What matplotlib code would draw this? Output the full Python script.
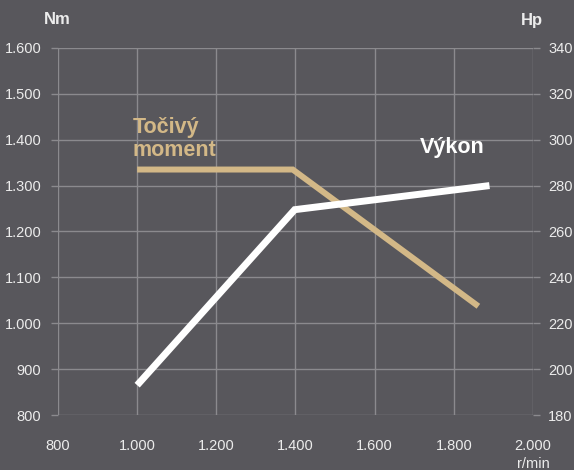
import numpy as np
import matplotlib
matplotlib.use("Agg")
import matplotlib.pyplot as plt

plt.rcParams['font.family'] = ['Liberation Sans', 'DejaVu Sans']

# data
rpm_torque = [1000, 1393, 1862]
torque_nm = [1335, 1335, 1037]
rpm_power = [1000, 1398, 1890]
power_hp = [193, 269.5, 280]

x_ticks = [800, 1000, 1200, 1400, 1600, 1800, 2000]
nm_ticks = [800, 900, 1000, 1100, 1200, 1300, 1400, 1500, 1600]
hp_ticks = [180, 200, 220, 240, 260, 280, 300, 320, 340]

bg = '#58575c'
grid_c = '#8b8a8e'
tan = '#d3b887'
txt = '#ececec'

def fmt(v):
    return f"{v:,}".replace(",", ".")

fig = plt.figure(figsize=(5.74, 4.70), dpi=100, facecolor=bg)
ax = fig.add_axes([0.101, 0.117, 0.8276, 0.781])
ax.set_facecolor(bg)
ax2 = ax.twinx()

ax.set_xlim(800, 2000)
ax.set_ylim(800, 1600)
ax2.set_ylim(180, 340)

for s in ax.spines.values():
    s.set_visible(False)
for s in ax2.spines.values():
    s.set_visible(False)

ax.set_xticks(x_ticks)
ax.set_xticklabels([fmt(v) for v in x_ticks])
ax.set_yticks(nm_ticks)
ax.set_yticklabels([fmt(v) for v in nm_ticks])
ax2.set_yticks(hp_ticks)
ax2.set_yticklabels([str(v) for v in hp_ticks])

ax.grid(True, color=grid_c, linewidth=1.0)
ax.tick_params(axis='x', length=0, pad=17, labelsize=10.5, labelcolor=txt)
ax.tick_params(axis='y', length=5, width=1.0, color=grid_c, pad=7, labelsize=10.5, labelcolor=txt)
ax2.tick_params(axis='y', length=5, width=1.0, color=grid_c, pad=6, labelsize=10.5, labelcolor=txt)

ax.plot(rpm_torque, torque_nm, color=tan, linewidth=4.3, solid_joinstyle='miter', solid_capstyle='butt', zorder=3)
ax2.plot(rpm_power, power_hp, color='white', linewidth=5, solid_joinstyle='miter', solid_capstyle='butt', zorder=4)

fig.text(57 / 574, 1 - 20 / 470, "Nm", color=txt, fontsize=12, fontweight='bold', ha='center', va='center')
fig.text(532 / 574, 1 - 20 / 470, "Hp", color=txt, fontsize=12, fontweight='bold', ha='center', va='center')
fig.text(533 / 574, 1 - 464 / 470, "r/min", color=txt, fontsize=10.5, ha='center', va='center')

ax.text(989, 1402, "Točivý\nmoment", color=tan, fontsize=15.5, fontweight='bold',
        ha='left', va='center', linespacing=1.1, zorder=5)
ax2.text(1797, 296.5, "Výkon", color='white', fontsize=15.5, fontweight='bold',
         ha='center', va='center', zorder=5)

fig.savefig("out.png", dpi=100, facecolor=bg)
